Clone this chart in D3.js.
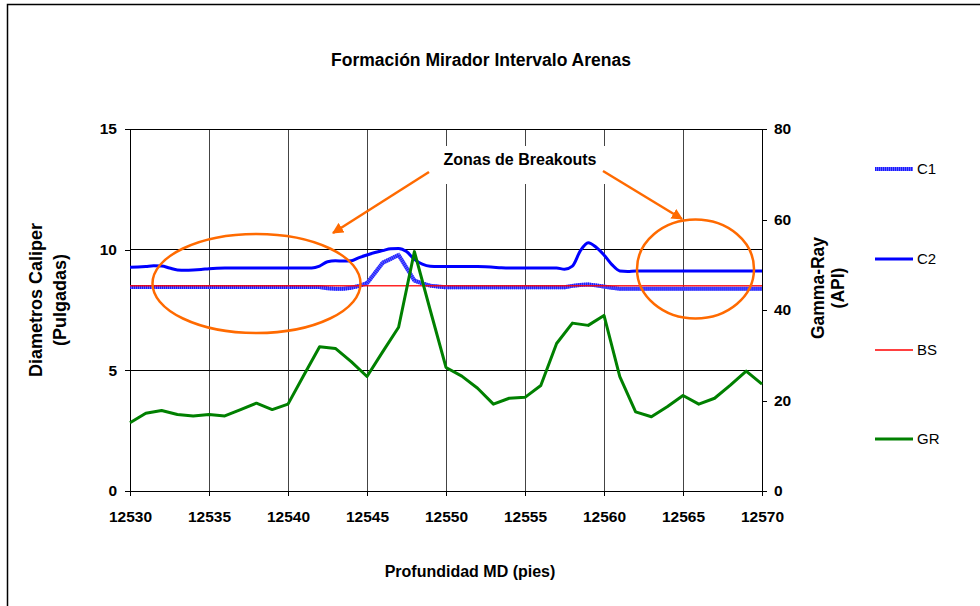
<!DOCTYPE html>
<html>
<head>
<meta charset="utf-8">
<script src="https://cdn.jsdelivr.net/npm/d3@7"></script>
<style>
  body { margin: 0; background: #fff; }
  text { font-family: "Liberation Sans", Arial, sans-serif; }
</style>
</head>
<body>
<div id="chart"></div>
<script>
// caliper readings, every half foot
var calDepth = d3.range(12530, 12570.01, 0.5);
var c1 = [8.45,8.45,8.45,8.45,8.45,8.45,8.45,8.45,8.45,8.45,8.45,8.45,8.45,8.45,8.45,8.45,8.45,8.45,8.45,8.45,8.45,8.45,8.45,8.45,8.45,
  8.40,8.38,8.38,8.42,8.50,8.61,9.03,9.46,9.62,9.78,9.25,8.72,8.60,8.51,8.47,
  8.44,8.44,8.44,8.44,8.44,8.44,8.44,8.44,8.44,8.44,8.44,8.44,8.44,8.44,8.44,8.44,
  8.50,8.54,8.56,8.52,8.47,8.42,
  8.38,8.38,8.38,8.38,8.38,8.38,8.38,8.38,8.38,8.38,8.38,8.38,8.38,8.38,8.38,8.38,8.38,8.38,8.38];
var c2 = [9.27,9.28,9.30,9.33,9.32,9.24,9.16,9.15,9.16,9.18,9.21,9.23,
  9.24,9.24,9.24,9.24,9.24,9.24,9.24,9.24,9.24,9.24,9.24,9.24,
  9.32,9.50,9.54,9.53,9.54,9.67,9.78,9.88,9.96,10.04,10.05,9.92,9.60,9.40,9.31,9.30,
  9.30,9.30,9.30,9.30,9.30,9.29,9.27,9.25,
  9.24,9.24,9.24,9.24,9.24,9.24,9.24,
  9.19,9.32,9.95,10.29,10.10,9.78,9.38,9.12,9.10,
  9.12,9.12,9.12,9.12,9.12,9.12,9.12,9.12,9.12,9.12,9.12,9.12,9.12,9.12,9.12,9.12,9.12];
var bs = calDepth.map(function() { return 8.5; });

// gamma ray, every foot
var grDepth = d3.range(12530, 12571, 1);
var gr = [15.1,17.2,17.8,16.9,16.6,16.9,16.6,18.0,19.4,18.0,19.2,
  25.6,31.9,31.5,28.6,25.3,30.8,36.2,52.9,40.0,27.3,
  25.4,22.7,19.2,20.5,20.7,23.3,32.6,37.1,36.6,38.8,
  25.3,17.5,16.4,18.6,21.1,19.2,20.5,23.4,26.5,23.6];

var xTicks = [12530,12535,12540,12545,12550,12555,12560,12565,12570];
var yLeftTicks = [0,5,10,15];
var yRightTicks = [0,20,40,60,80];

var width = 980, height = 606;
var pLeft = 130, pRight = 762, pTop = 129, pBottom = 491;

var svg = d3.select("#chart").append("svg")
  .attr("width", width)
  .attr("height", height);

// outer frame
svg.append("rect")
  .attr("x", 7.5).attr("y", 4.5)
  .attr("width", 1100).attr("height", 800)
  .attr("fill", "#fff")
  .attr("stroke", "#000")
  .attr("stroke-width", 1.5);

var x = d3.scaleLinear().domain([12530, 12570]).range([pLeft, pRight]);
var yL = d3.scaleLinear().domain([0, 15]).range([pBottom, pTop]);
var yR = d3.scaleLinear().domain([0, 80]).range([pBottom, pTop]);

// grid
var g = svg.append("g").attr("shape-rendering", "crispEdges");
g.selectAll(".vgrid")
  .data(xTicks.slice(1, -1))
  .enter().append("line")
  .attr("x1", function(d) { return x(d); })
  .attr("x2", function(d) { return x(d); })
  .attr("y1", pTop).attr("y2", pBottom)
  .attr("stroke", "#444");
g.selectAll(".hgrid")
  .data(yLeftTicks.slice(1))
  .enter().append("line")
  .attr("x1", pLeft).attr("x2", pRight)
  .attr("y1", function(d) { return yL(d); })
  .attr("y2", function(d) { return yL(d); })
  .attr("stroke", "#000");

// axes
var axB = svg.append("g")
  .attr("transform", "translate(0," + pBottom + ")")
  .call(d3.axisBottom(x).tickValues(xTicks).tickSize(5).tickSizeOuter(0).tickFormat(d3.format("d")));
axB.selectAll("text").attr("y", 20);

var axL = svg.append("g")
  .attr("transform", "translate(" + pLeft + ",0)")
  .call(d3.axisLeft(yL).tickValues(yLeftTicks).tickSize(5).tickSizeOuter(0).tickPadding(8));

var axR = svg.append("g")
  .attr("transform", "translate(" + pRight + ",0)")
  .call(d3.axisRight(yR).tickValues(yRightTicks).tickSize(5).tickSizeOuter(0).tickPadding(7));

[axB, axL, axR].forEach(function(a) {
  a.attr("font-family", null).attr("font-size", null);
  a.selectAll("text")
    .attr("fill", "#000")
    .style("font-size", "15.5px")
    .style("font-weight", "bold");
  a.selectAll("line, path").attr("stroke", "#000").attr("shape-rendering", "crispEdges");
});

// series
var lineL = function(depths) {
  return d3.line()
    .x(function(d, i) { return x(depths[i]); })
    .y(function(d) { return yL(d); });
};

svg.append("path").datum(c1)
  .attr("d", lineL(calDepth))
  .attr("fill", "none").attr("stroke", "#6464ff").attr("stroke-width", 4);
svg.append("path").datum(c1)
  .attr("d", lineL(calDepth))
  .attr("fill", "none").attr("stroke", "#1a1aff").attr("stroke-width", 4)
  .attr("stroke-dasharray", "1,1");

svg.append("path").datum(c2)
  .attr("d", lineL(calDepth).curve(d3.curveMonotoneX))
  .attr("fill", "none").attr("stroke", "#0000ff").attr("stroke-width", 3);

svg.append("path").datum(bs)
  .attr("d", lineL(calDepth))
  .attr("fill", "none").attr("stroke", "#ff0000").attr("stroke-width", 1.5)
  .attr("stroke-opacity", 0.85);

svg.append("path").datum(gr)
  .attr("d", d3.line()
    .x(function(d, i) { return x(grDepth[i]); })
    .y(function(d) { return yR(d); }))
  .attr("fill", "none").attr("stroke", "#008000").attr("stroke-width", 3)
  .attr("stroke-linejoin", "round");

// annotations
var orange = "#ff6a00";
svg.append("defs").append("marker")
  .attr("id", "arrow")
  .attr("viewBox", "0 0 10 10")
  .attr("refX", 9).attr("refY", 5)
  .attr("markerWidth", 4.5).attr("markerHeight", 4.5)
  .attr("orient", "auto")
  .append("path")
  .attr("d", "M0,0L10,5L0,10Z")
  .attr("fill", orange);

svg.append("rect")
  .attr("x", 429).attr("y", 146)
  .attr("width", 176).attr("height", 38)
  .attr("fill", "#fff");

svg.append("text")
  .attr("x", 520).attr("y", 165)
  .attr("text-anchor", "middle")
  .style("font-size", "16px").style("font-weight", "bold")
  .text("Zonas de Breakouts");

var arrows = [[429, 172, 333, 233], [603, 171, 682, 219]];
svg.selectAll(".arrow")
  .data(arrows)
  .enter().append("line")
  .attr("x1", function(d) { return d[0]; })
  .attr("y1", function(d) { return d[1]; })
  .attr("x2", function(d) { return d[2]; })
  .attr("y2", function(d) { return d[3]; })
  .attr("stroke", orange).attr("stroke-width", 2.5)
  .attr("marker-end", "url(#arrow)");

var ellipses = [[256.5, 283.5, 104, 49.5], [695.5, 269, 58.5, 49.5]];
svg.selectAll(".ell")
  .data(ellipses)
  .enter().append("ellipse")
  .attr("cx", function(d) { return d[0]; })
  .attr("cy", function(d) { return d[1]; })
  .attr("rx", function(d) { return d[2]; })
  .attr("ry", function(d) { return d[3]; })
  .attr("fill", "none").attr("stroke", orange).attr("stroke-width", 2.5);

// titles
svg.append("text")
  .attr("x", 481).attr("y", 66)
  .attr("text-anchor", "middle")
  .style("font-size", "17.5px").style("font-weight", "bold")
  .text("Formación Mirador Intervalo Arenas");

svg.append("text")
  .attr("x", 470).attr("y", 577)
  .attr("text-anchor", "middle")
  .style("font-size", "16px").style("font-weight", "bold")
  .text("Profundidad MD (pies)");

var leftTitle = svg.append("text")
  .attr("transform", "translate(0,300) rotate(-90)")
  .attr("text-anchor", "middle")
  .style("font-size", "18px").style("font-weight", "bold");
leftTitle.append("tspan").attr("x", 0).attr("y", 42).text("Diametros Caliper");
leftTitle.append("tspan").attr("x", 0).attr("y", 66).text("(Pulgadas)");

var rightTitle = svg.append("text")
  .attr("transform", "translate(0,288) rotate(-90)")
  .attr("text-anchor", "middle")
  .style("font-size", "17.5px").style("font-weight", "bold");
rightTitle.append("tspan").attr("x", 0).attr("y", 824).text("Gamma-Ray");
rightTitle.append("tspan").attr("x", 0).attr("y", 844).text("(API)");

// legend
var legendNames = ["C1", "C2", "BS", "GR"];
var legendY = [169, 259, 350, 439];
var leg = svg.selectAll(".leg")
  .data(legendNames)
  .enter().append("g")
  .attr("transform", function(d, i) { return "translate(875," + legendY[i] + ")"; });
leg.append("line")
  .attr("x1", 0).attr("x2", 38)
  .attr("stroke", function(d) { return {C1: "#6464ff", C2: "#0000ff", BS: "#ff0000", GR: "#008000"}[d]; })
  .attr("stroke-width", function(d) { return d == "BS" ? 1.5 : (d == "C1" ? 4 : 3); });
leg.filter(function(d) { return d == "C1"; }).append("line")
  .attr("x1", 0).attr("x2", 38)
  .attr("stroke", "#1a1aff").attr("stroke-width", 4)
  .attr("stroke-dasharray", "1,1");
leg.append("text")
  .attr("x", 42).attr("dy", "0.36em")
  .style("font-size", "15px")
  .text(function(d) { return d; });
</script>
</body>
</html>
